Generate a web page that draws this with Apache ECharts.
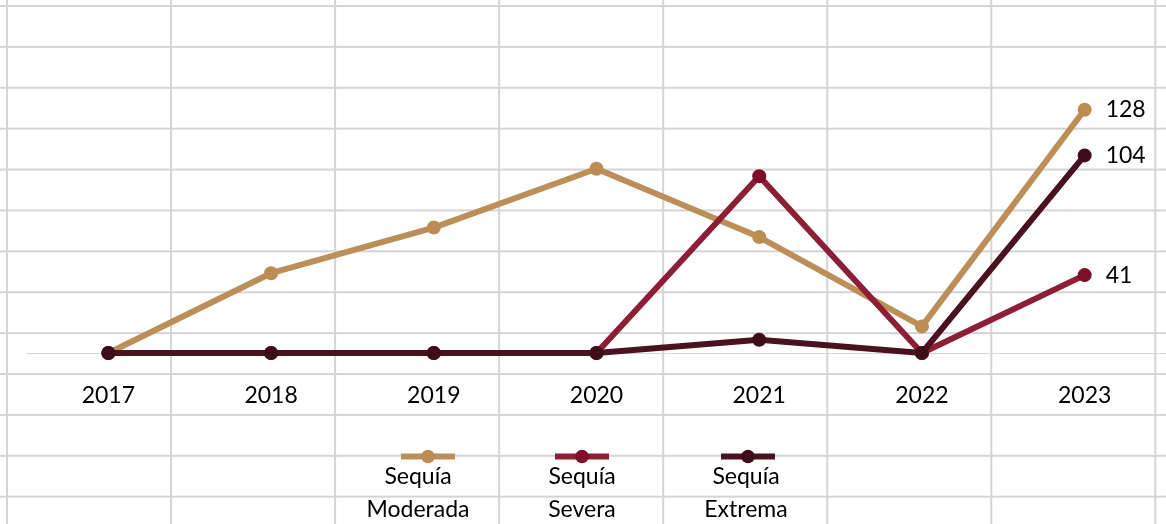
<!DOCTYPE html>
<html>
<head>
<meta charset="utf-8">
<title>Sequía por año</title>
<script src="https://cdn.jsdelivr.net/npm/echarts@6/dist/echarts.min.js"></script>
<style>
  html, body { margin: 0; padding: 0; background: #ffffff; }
  /* worksheet cell grid behind the transparent chart */
  #chart {
    width: 1166px;
    height: 524px;
    background-color: #ffffff;
    background-image:
      linear-gradient(to right, #d4d4d4 2px, transparent 2px),
      linear-gradient(to bottom, #d4d4d4 2px, transparent 2px);
    background-size: 164.05px 40.9px;
    background-position: 6px 5px;
  }
</style>
</head>
<body>
<div id="chart"></div>
<script>
// Years on the category axis
const years = ['2017', '2018', '2019', '2020', '2021', '2022', '2023'];

// Series names and values per year
const seriesNames = ['Sequía Moderada', 'Sequía Severa', 'Sequía Extrema'];
const moderada = [0, 42, 66, 97, 61, 14, 128];
const severa   = [0, 0, 0, 0, 93, 0, 41];
const extrema  = [0, 0, 0, 0, 7, 0, 104];

// Two-line legend captions
const legendCaptions = ['Sequía\nModerada', 'Sequía\nSevera', 'Sequía\nExtrema'];

const FONT = 'Lato, "Liberation Sans", sans-serif';
const FONT_SIZE = 23;
const lineColors   = ['#bc8f58', '#8c1f36', '#4a1220'];
const markerColors = ['#bb8d55', '#7d1028', '#3f0d1a'];
const valueSets = [moderada, severa, extrema];

const chart = echarts.init(document.getElementById('chart'), null, { renderer: 'canvas' });

const lastIdx = years.length - 1;

const series = valueSets.map((vals, i) => ({
  name: seriesNames[i],
  type: 'line',
  data: vals,
  symbol: 'circle',
  symbolSize: 14,
  showAllSymbol: true,
  lineStyle: { color: lineColors[i], width: 6 },
  itemStyle: { color: markerColors[i] },
  emphasis: { disabled: true },
  label: {
    show: true,
    position: 'right',
    distance: 14,
    color: '#000000',
    fontFamily: FONT,
    fontSize: FONT_SIZE,
    formatter: p => (p.dataIndex === lastIdx ? String(p.value) : '')
  },
  z: 2 + i
}));

// One legend per series so each caption can sit under its own symbol
const legendCenters = [420, 574, 740];
const legends = legendCenters.map((cx, i) => ({
  data: [seriesNames[i]],
  left: cx - 27,
  top: 443,
  itemWidth: 54,
  itemHeight: 17,
  itemGap: 0,
  formatter: () => '',
  textStyle: { fontSize: 1 },
  lineStyle: { width: 6 },
  selectedMode: false
}));

const captionCenters = [418, 582, 746];
const captions = captionCenters.map((cx, i) => ({
  type: 'text',
  x: cx,
  y: 460,
  style: {
    text: legendCaptions[i],
    fill: '#000000',
    font: FONT_SIZE + 'px ' + FONT,
    align: 'center',
    verticalAlign: 'top',
    lineHeight: 33
  }
}));

chart.setOption({
  backgroundColor: 'transparent',
  animation: false,
  grid: { left: 27, top: 87, width: 1142, height: 266, containLabel: false },
  xAxis: {
    type: 'category',
    data: years,
    boundaryGap: true,
    axisLine: { show: true, lineStyle: { color: '#d9d9d9', width: 1 } },
    axisTick: { show: false },
    splitLine: { show: false },
    axisLabel: {
      color: '#000000',
      fontFamily: FONT,
      fontSize: FONT_SIZE,
      margin: 31
    }
  },
  yAxis: {
    type: 'value',
    min: 0,
    max: 140,
    show: false,
    splitLine: { show: false }
  },
  legend: legends,
  graphic: captions,
  series: series
});
</script>
</body>
</html>
